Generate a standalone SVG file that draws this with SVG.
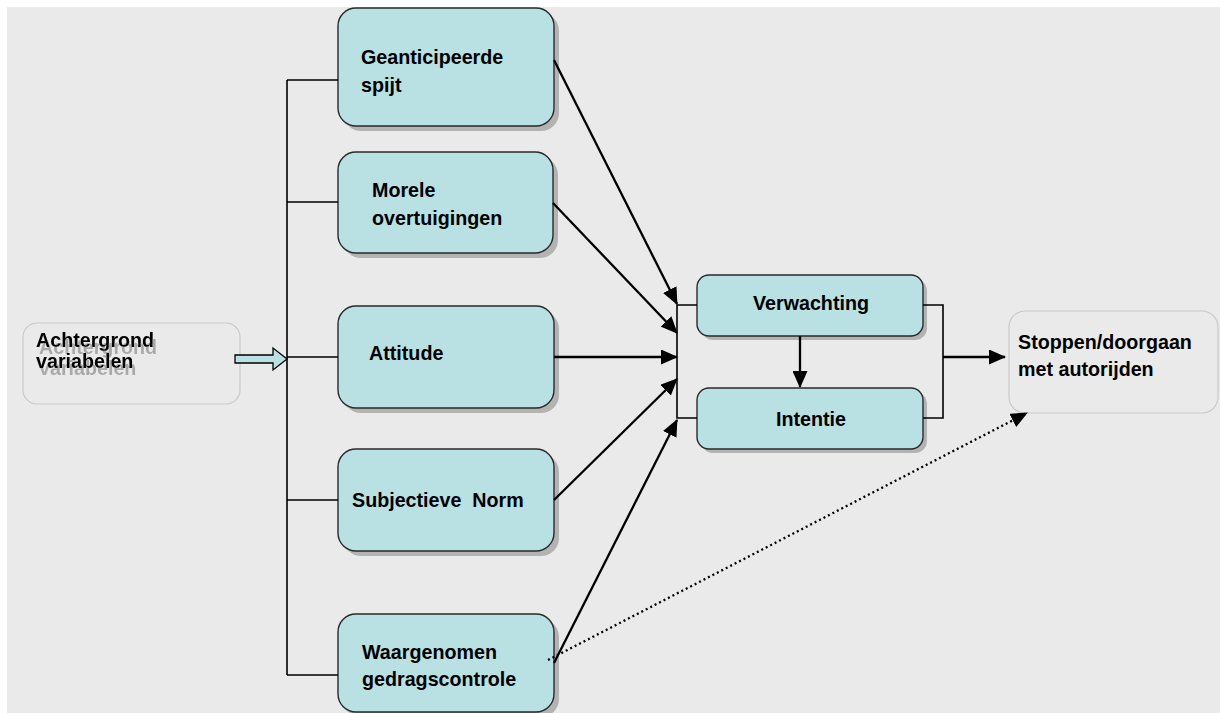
<svg xmlns="http://www.w3.org/2000/svg" width="1220" height="713" viewBox="0 0 1220 713">
<defs>
<style>
.bg{fill:#eaeaea}
.shadow{fill:#b3b3b3}
.box{fill:#b9e0e3;stroke:#2a2a2a;stroke-width:1.4}
.ghostbox{fill:none;stroke:#c9c9c9;stroke-width:1.2}
.t{font-family:"Liberation Sans",Arial,sans-serif;font-weight:bold;font-size:19.7px;fill:#000}
.c{text-anchor:middle}
.br{fill:none;stroke:#000;stroke-width:1.6}
.ar{fill:none;stroke:#000;stroke-width:2.3;marker-end:url(#ah)}
.dot{fill:none;stroke:#000;stroke-width:2.3;stroke-dasharray:2 3;marker-end:url(#ah)}
</style>
<filter id="ghost" x="-10%" y="-20%" width="130%" height="160%">
<feFlood flood-color="#a9a9a9" result="f"/>
<feComposite in="f" in2="SourceAlpha" operator="in" result="g"/>
<feOffset in="g" dx="3" dy="7" result="o"/>
<feMerge><feMergeNode in="o"/><feMergeNode in="SourceGraphic"/></feMerge>
</filter>
<marker id="ah" markerUnits="userSpaceOnUse" markerWidth="17" markerHeight="15" refX="16" refY="7.5" orient="auto" viewBox="0 0 17 15">
<path d="M0,0 L17,7.5 L0,15 z" fill="#000"/>
</marker>
</defs>
<rect class="bg" x="7" y="7" width="1213" height="706"/>

<g id="achtergrond">
<rect class="ghostbox" x="23" y="323" width="217" height="81" rx="14"/>
<g filter="url(#ghost)">
<text class="t" x="36" y="347">Achtergrond</text>
<text class="t" x="36" y="368">variabelen</text>
</g>
</g>

<g id="geanticipeerde">
<rect class="shadow" x="343" y="13" width="216" height="118" rx="18"/>
<rect class="box" x="338" y="8" width="216" height="118" rx="18"/>
<text class="t" x="361" y="64">Geanticipeerde</text>
<text class="t" x="361" y="92">spijt</text>
</g>

<g id="morele">
<rect class="shadow" x="343" y="157" width="215" height="101" rx="18"/>
<rect class="box" x="338" y="152" width="215" height="101" rx="18"/>
<text class="t" x="372" y="197">Morele</text>
<text class="t" x="372" y="225">overtuigingen</text>
</g>

<g id="attitude">
<rect class="shadow" x="343" y="311" width="216" height="102" rx="18"/>
<rect class="box" x="338" y="306" width="216" height="102" rx="18"/>
<text class="t" x="369" y="360">Attitude</text>
</g>

<g id="subjectieve">
<rect class="shadow" x="343" y="454" width="216" height="102" rx="18"/>
<rect class="box" x="338" y="449" width="216" height="102" rx="18"/>
<text class="t" x="352" y="507" xml:space="preserve">Subjectieve  Norm</text>
</g>

<g id="waargenomen">
<rect class="shadow" x="343" y="619" width="216" height="98" rx="18"/>
<rect class="box" x="338" y="614" width="216" height="98" rx="18"/>
<text class="t" x="362" y="659">Waargenomen</text>
<text class="t" x="362" y="686">gedragscontrole</text>
</g>

<g id="verwachting">
<rect class="shadow" x="701" y="279" width="226" height="61" rx="12"/>
<rect class="box" x="697" y="275" width="226" height="61" rx="12"/>
<text class="t c" x="811" y="310">Verwachting</text>
</g>

<g id="intentie">
<rect class="shadow" x="701" y="392" width="226" height="61" rx="12"/>
<rect class="box" x="697" y="388" width="226" height="61" rx="12"/>
<text class="t c" x="811" y="426">Intentie</text>
</g>

<g id="stoppen">
<rect class="ghostbox" x="1009" y="311" width="209" height="102" rx="16"/>
<text class="t" x="1018" y="349">Stoppen/doorgaan</text>
<text class="t" x="1018" y="376">met autorijden</text>
</g>

<g id="connectors">
<path class="br" d="M287,80 V675 M287,80 H338 M287,202 H338 M287,357 H338 M287,500 H338 M287,675 H338"/>
<path d="M235,355 H273 V348 L287,359 L273,370 V363 H235 Z" fill="#b9e0e3" stroke="#000" stroke-width="1.3"/>
<path class="br" d="M697,305 H677 V418 H697"/>
<path class="br" d="M923,305 H943 V418 H923"/>
<line class="ar" x1="554" y1="60" x2="677" y2="304"/>
<line class="ar" x1="553" y1="203" x2="677" y2="333"/>
<line class="ar" x1="554" y1="357" x2="677" y2="357"/>
<line class="ar" x1="554" y1="500" x2="677" y2="379"/>
<line class="ar" x1="554" y1="663" x2="677" y2="420"/>
<line class="ar" x1="800" y1="336" x2="800" y2="387"/>
<line class="ar" x1="943" y1="357" x2="1005" y2="357"/>
<line class="dot" x1="548" y1="660" x2="1027" y2="413"/>
</g>
</svg>
